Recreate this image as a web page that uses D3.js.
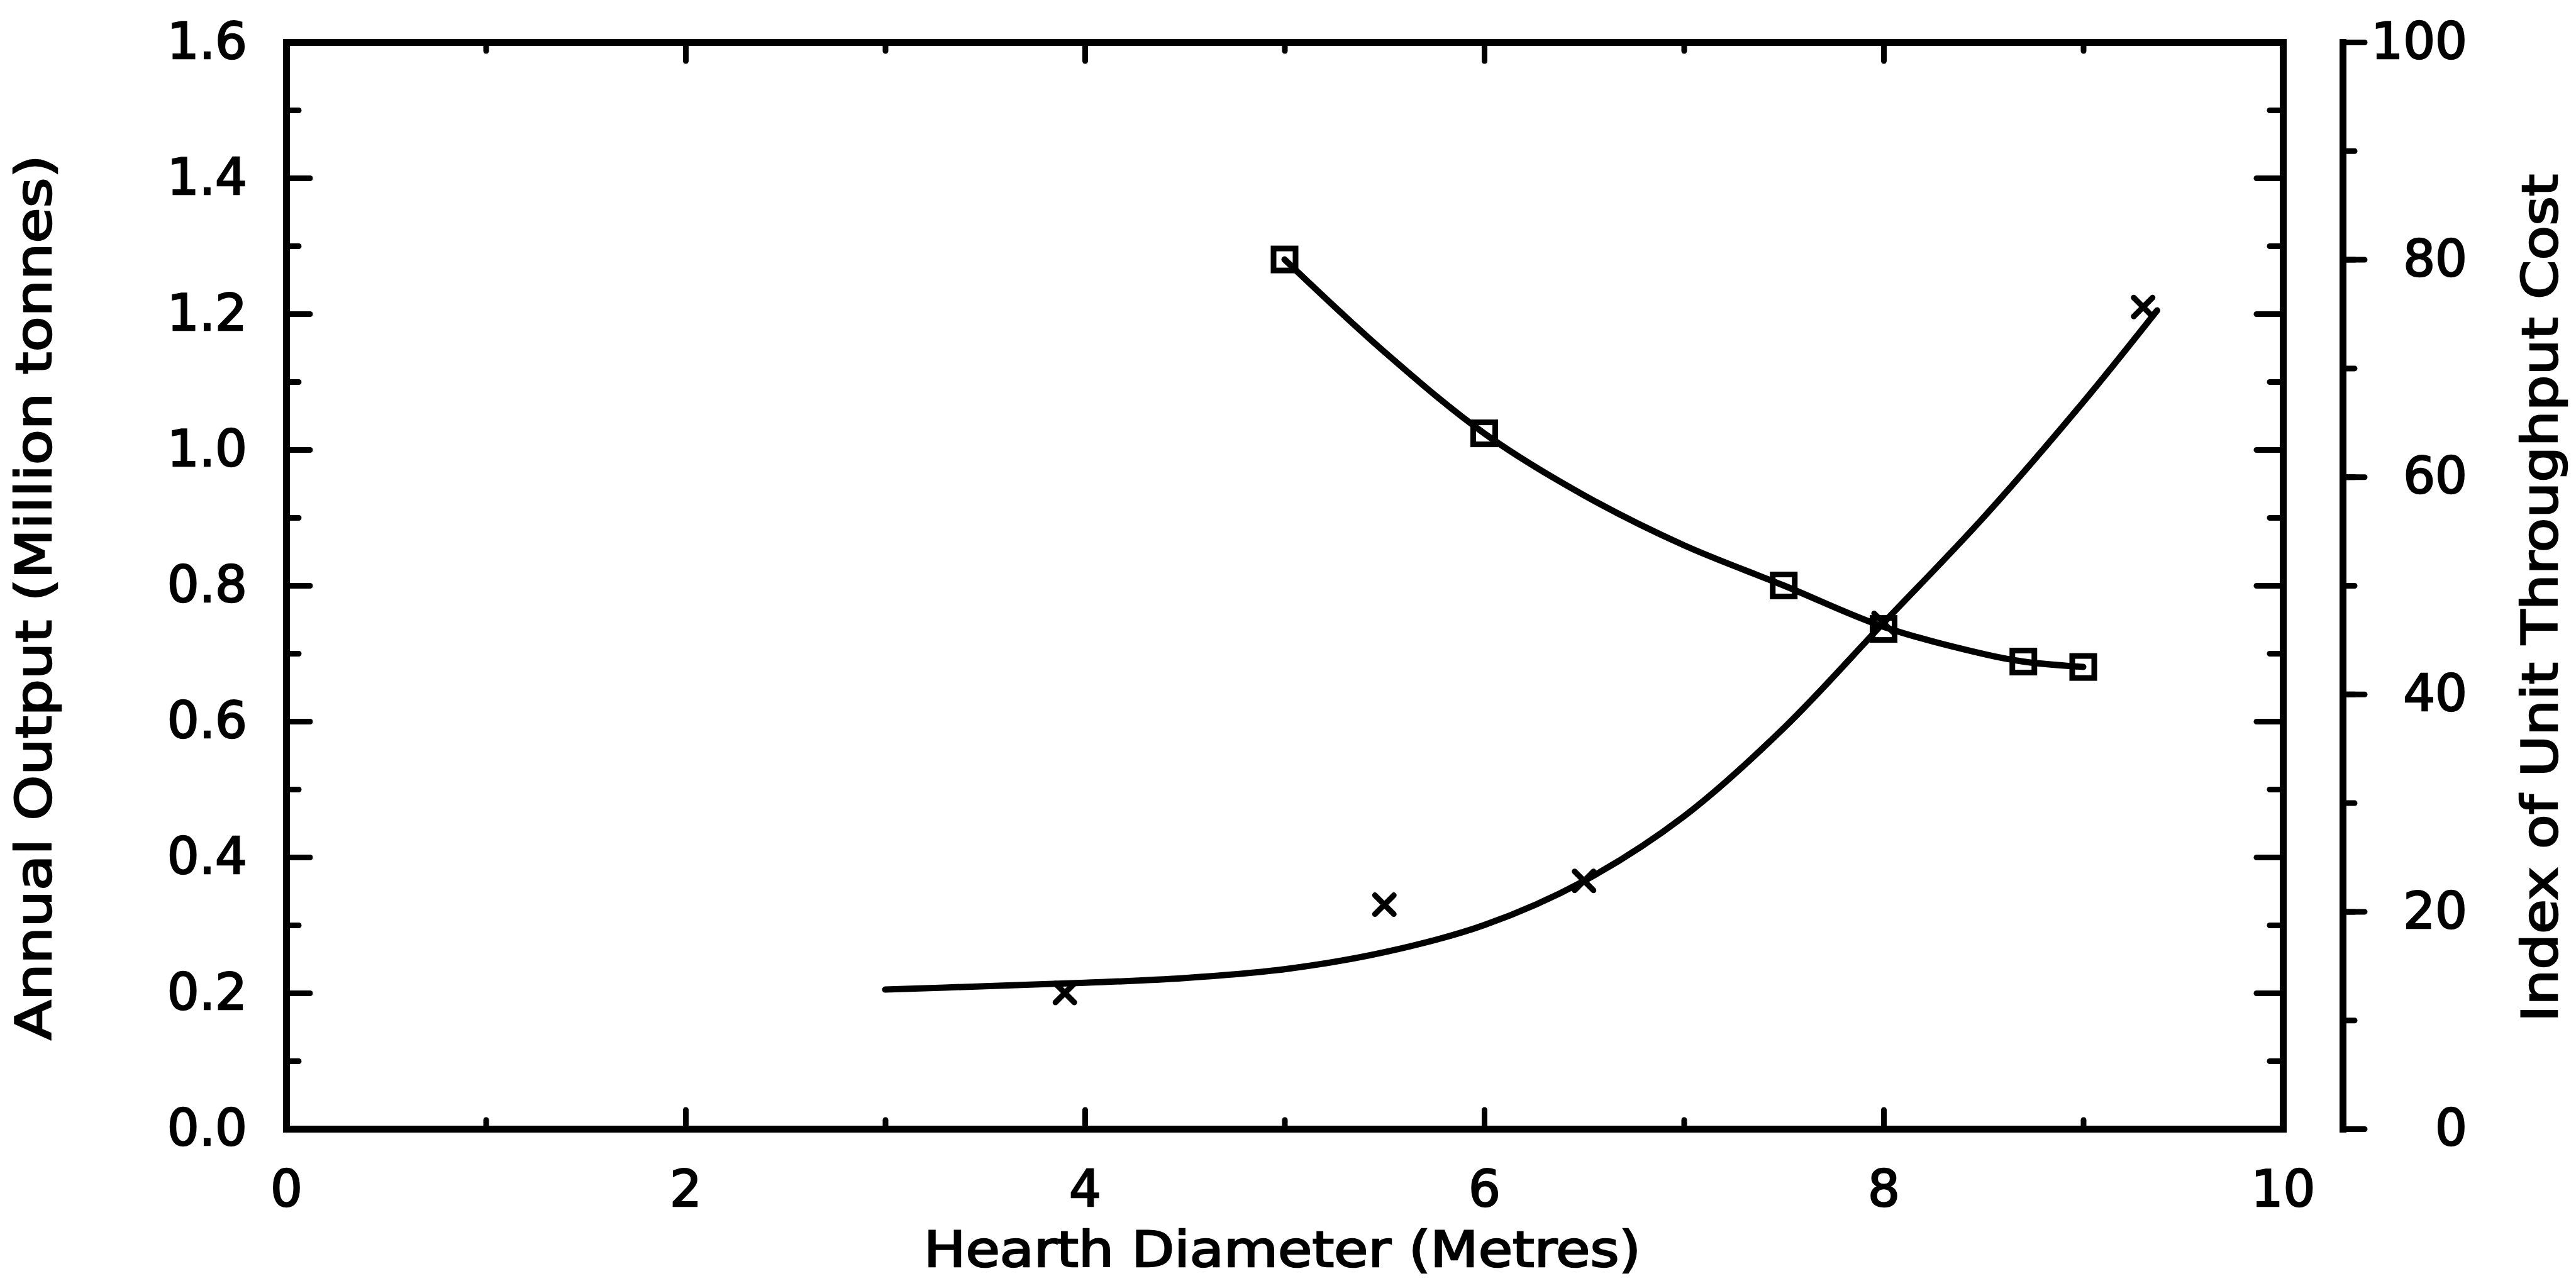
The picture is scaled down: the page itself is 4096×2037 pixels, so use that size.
<!DOCTYPE html>
<head>
  <meta charset="utf-8">
  <script src="https://cdn.jsdelivr.net/npm/d3@7"></script>
  <style>
    body { margin:0; background:#fff; }
    svg { display:block; }
  </style>
</head>
<body>
<script>
  // values
  // annual output (left axis), crosses
  const outDiam = [3.9, 5.5, 6.5, 8.0, 9.3];
  const outVal  = [0.20, 0.33, 0.365, 0.745, 1.21];
  // fitted output curve
  const outCurveX = [3.0, 3.5, 4.0, 4.5, 5.0, 5.5, 6.0, 6.5, 7.0, 7.5, 8.0, 8.5, 9.0, 9.37];
  const outCurveY = [0.205, 0.21, 0.215, 0.222, 0.235, 0.26, 0.30, 0.365, 0.46, 0.59, 0.745, 0.90, 1.07, 1.205];
  // unit throughput cost index (right axis), squares
  const costDiam = [5.0, 6.0, 7.5, 8.0, 8.7, 9.0];
  const costVal  = [80, 64, 50, 46, 43, 42.5];
  const costCurveX = [5.0, 5.5, 6.0, 6.5, 7.0, 7.5, 8.0, 8.5, 8.7, 9.0];
  const costCurveY = [80, 71.5, 64, 58.3, 53.7, 50, 46.2, 43.7, 43, 42.5];

  const xMajor = [0, 2, 4, 6, 8, 10];
  const yLeftMajor = [0, 0.2, 0.4, 0.6, 0.8, 1.0, 1.2, 1.4, 1.6];
  const yRightMajor = [0, 20, 40, 60, 80, 100];

  const width = 4096, height = 2037;
  const mLeft = 455, mRight = 3630, mTop = 67, mBottom = 1795, axis2 = 3725;
  const font = "DejaVu Sans";

  const svg = d3.select("body").append("svg")
    .attr("width", width).attr("height", height);

  const x = d3.scaleLinear().domain([0, 10]).range([mLeft, mRight]);
  const yL = d3.scaleLinear().domain([0, 1.6]).range([mBottom, mTop]);
  const yR = d3.scaleLinear().domain([0, 100]).range([mBottom, mTop]);

  const minorX = d3.range(0, 10.01, 1);
  const minorY = d3.range(0, 1.601, 0.1);
  const minorR = d3.range(0, 100.1, 10);

  function style(g, labels) {
    g.selectAll("path").attr("stroke", "#000").attr("stroke-width", 11).attr("stroke-linecap", "square");
    g.selectAll("line").attr("stroke", "#000").attr("stroke-width", 9).attr("stroke-linecap", "round");
    g.attr("font-family", font).attr("font-size", 80);
    g.selectAll("text").attr("fill", "#000").attr("stroke", "#000").attr("stroke-width", 2.5);
    if (!labels) g.selectAll("text").remove();
  }

  // left axis
  svg.append("g").attr("transform", `translate(${mLeft},0)`)
    .call(d3.axisLeft(yL).tickValues(minorY).tickSize(-20).tickSizeOuter(0))
    .call(g => style(g, false));
  svg.append("g").attr("transform", `translate(${mLeft},0)`)
    .call(d3.axisLeft(yL).tickValues(yLeftMajor).tickSize(-38).tickSizeOuter(0)
      .tickPadding(62).tickFormat(d3.format(".1f")))
    .call(g => style(g, true));

  // right frame
  svg.append("g").attr("transform", `translate(${mRight},0)`)
    .call(d3.axisRight(yL).tickValues(minorY).tickSize(-21).tickSizeOuter(0))
    .call(g => style(g, false));
  svg.append("g").attr("transform", `translate(${mRight},0)`)
    .call(d3.axisRight(yL).tickValues(yLeftMajor).tickSize(-42).tickSizeOuter(0))
    .call(g => style(g, false));

  // bottom axis
  svg.append("g").attr("transform", `translate(0,${mBottom})`)
    .call(d3.axisBottom(x).tickValues(minorX).tickSize(-14).tickSizeOuter(0))
    .call(g => style(g, false));
  svg.append("g").attr("transform", `translate(0,${mBottom})`)
    .call(d3.axisBottom(x).tickValues(xMajor).tickSize(-30).tickSizeOuter(0)
      .tickPadding(66).tickFormat(d3.format("d")))
    .call(g => style(g, true));

  // top frame
  svg.append("g").attr("transform", `translate(0,${mTop})`)
    .call(d3.axisTop(x).tickValues(minorX).tickSize(-14).tickSizeOuter(0))
    .call(g => style(g, false));
  svg.append("g").attr("transform", `translate(0,${mTop})`)
    .call(d3.axisTop(x).tickValues(xMajor).tickSize(-30).tickSizeOuter(0))
    .call(g => style(g, false));

  // secondary axis
  svg.append("g").attr("transform", `translate(${axis2},0)`)
    .call(d3.axisRight(yR).tickValues(minorR).tickSize(19).tickSizeOuter(0))
    .call(g => style(g, false));
  svg.append("g").attr("transform", `translate(${axis2},0)`)
    .call(d3.axisRight(yR).tickValues(yRightMajor).tickSize(35).tickSizeOuter(0)
      .tickFormat(d3.format("d")))
    .call(g => style(g, true))
    .call(g => g.selectAll("text").attr("text-anchor", "end").attr("x", 3923 - axis2));

  // curves
  const outLine = d3.line().x(d => x(d[0])).y(d => yL(d[1])).curve(d3.curveCatmullRom);
  const costLine = d3.line().x(d => x(d[0])).y(d => yR(d[1])).curve(d3.curveCatmullRom);

  svg.append("path")
    .attr("d", outLine(outCurveX.map((v, i) => [v, outCurveY[i]])))
    .attr("fill", "none").attr("stroke", "#000").attr("stroke-width", 10).attr("stroke-linecap", "round");
  svg.append("path")
    .attr("d", costLine(costCurveX.map((v, i) => [v, costCurveY[i]])))
    .attr("fill", "none").attr("stroke", "#000").attr("stroke-width", 10).attr("stroke-linecap", "round");

  // cross markers
  const cs = 15;
  svg.selectAll(".cross").data(outDiam).enter().append("path")
    .attr("class", "cross")
    .attr("d", (d, i) => {
      const cx = x(d), cy = yL(outVal[i]);
      return `M${cx - cs},${cy - cs}L${cx + cs},${cy + cs}M${cx + cs},${cy - cs}L${cx - cs},${cy + cs}`;
    })
    .attr("fill", "none").attr("stroke", "#000").attr("stroke-width", 9).attr("stroke-linecap", "round");

  // square markers
  const sq = 35;
  svg.selectAll(".sq").data(costDiam).enter().append("rect")
    .attr("class", "sq")
    .attr("x", d => x(d) - sq / 2)
    .attr("y", (d, i) => yR(costVal[i]) - sq / 2)
    .attr("width", sq).attr("height", sq)
    .attr("fill", "none").attr("stroke", "#000").attr("stroke-width", 9);

  // titles
  const title = (t, len) => t.attr("font-family", font).attr("font-size", 78)
    .attr("text-anchor", "middle").attr("fill", "#000")
    .attr("stroke", "#000").attr("stroke-width", 2.5)
    .attr("textLength", len).attr("lengthAdjust", "spacingAndGlyphs");

  svg.append("text").attr("transform", "translate(81,950) rotate(-90)")
    .text("Annual Output (Million tonnes)").call(t => title(t, 1407));
  svg.append("text").attr("transform", "translate(4066,951) rotate(-90)")
    .text("Index of Unit Throughput Cost").call(t => title(t, 1348));
  svg.append("text").attr("x", 2039).attr("y", 2014)
    .text("Hearth Diameter (Metres)").call(t => title(t, 1140));
</script>
</body>
